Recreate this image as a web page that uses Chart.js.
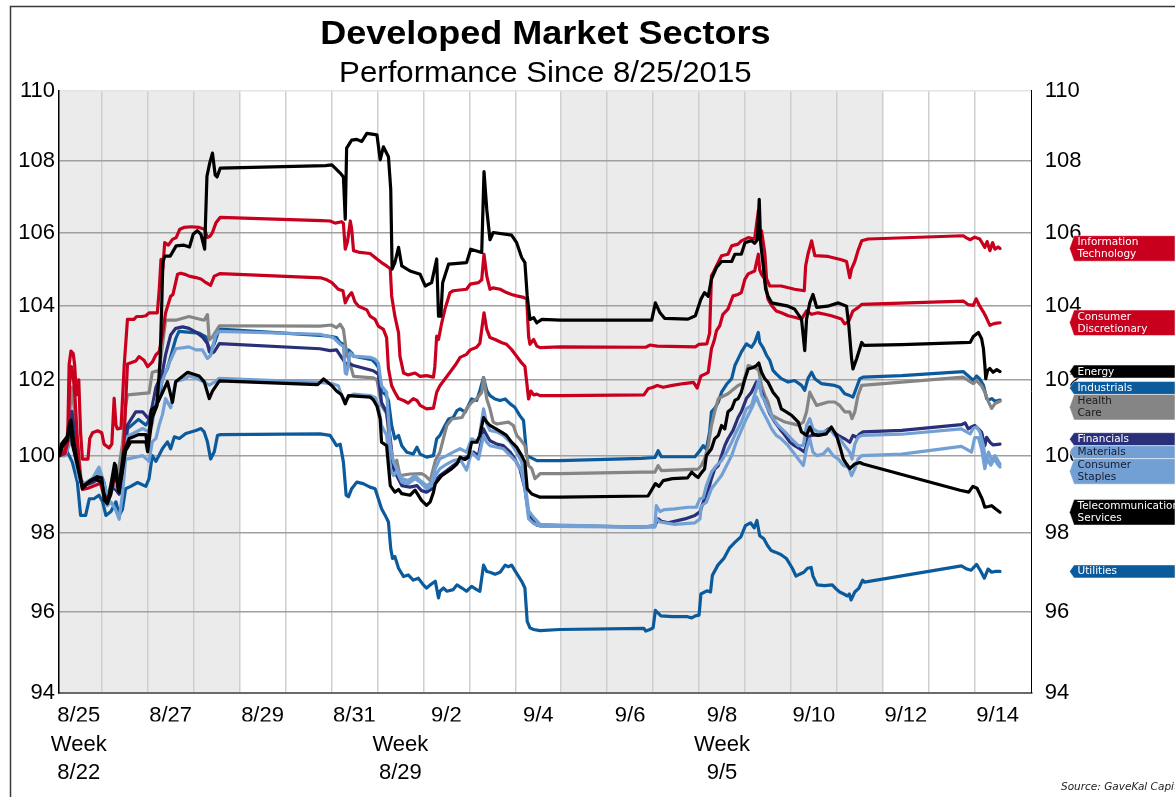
<!DOCTYPE html>
<html>
<head>
<meta charset="utf-8">
<title>Developed Market Sectors</title>
<script src="https://cdn.jsdelivr.net/npm/chart.js@4.4.1/dist/chart.umd.min.js"></script>
<style>
  html, body { margin: 0; padding: 0; background: #fff; }
  #wrap { width: 1175px; height: 797px; position: relative; }
</style>
</head>
<body>
<div id="wrap"><canvas id="sectorChart" width="1175" height="797"></canvas></div>
<script>
// x = days since 8/25/2015 00:00, y = index level (8/25/2015 = 100)
const itPts = [[0.08,100],[0.2,100.1],[0.26,100.5],[0.29,102.4],[0.33,102.77],[0.38,102.7],[0.41,102.4],[0.45,101.6],[0.5,102.0],[0.54,100.6],[0.58,99.91],[0.7,99.91],[0.74,100.45],[0.8,100.6],[0.91,100.65],[1.0,100.6],[1.05,100.3],[1.16,100.2],[1.22,100.3],[1.27,101.51],[1.31,100.8],[1.34,100.7],[1.42,100.72],[1.49,102.4],[1.56,103.62],[1.7,103.62],[1.76,103.7],[1.88,103.7],[1.96,103.72],[2.03,103.8],[2.21,103.8],[2.25,104.4],[2.29,105.26],[2.33,105.0],[2.37,105.72],[2.45,105.65],[2.54,105.81],[2.62,105.86],[2.7,106.09],[2.79,106.14],[2.95,106.16],[3.12,106.14],[3.24,106.09],[3.3,105.86],[3.36,105.9],[3.41,106.0],[3.49,106.28],[3.58,106.42],[5.78,106.33],[5.97,106.32],[6.08,106.26],[6.22,106.3],[6.26,106.25],[6.3,105.54],[6.35,105.75],[6.41,106.32],[6.44,106.1],[6.48,105.5],[6.62,105.45],[6.84,105.42],[6.99,105.27],[7.09,105.17],[7.2,105.08],[7.28,105.0],[7.31,104.26],[7.38,103.71],[7.46,103.26],[7.49,102.63],[7.57,102.18],[7.67,102.13],[7.82,102.18],[7.93,102.09],[8.07,102.11],[8.22,102.07],[8.25,102.35],[8.29,103.17],[8.33,103.08],[8.4,103.53],[8.47,103.9],[8.58,104.35],[8.65,104.4],[8.94,104.44],[9.02,104.58],[9.2,104.62],[9.27,104.7],[9.32,105.4],[9.38,104.8],[9.45,104.44],[9.52,104.48],[9.67,104.44],[9.81,104.35],[9.92,104.3],[10.03,104.26],[10.18,104.22],[10.25,104.17],[10.29,103.17],[10.32,102.95],[10.4,103.08],[10.47,102.9],[10.54,102.86],[10.97,102.88],[12.84,102.87],[12.93,102.93],[13.09,102.9],[13.92,102.88],[14.0,102.95],[14.17,102.96],[14.23,103.25],[14.27,104.81],[14.31,104.9],[14.38,105.08],[14.49,105.36],[14.63,105.4],[14.71,105.63],[14.85,105.68],[14.92,105.77],[15.07,105.86],[15.21,105.82],[15.29,106.6],[15.32,105.86],[15.36,106.05],[15.43,105.45],[15.47,104.72],[15.54,104.53],[15.79,104.53],[16.08,104.44],[16.29,104.4],[16.32,105.08],[16.37,105.4],[16.45,105.77],[16.52,105.36],[16.81,105.34],[17.1,105.25],[17.21,105.2],[17.28,104.76],[17.32,105.0],[17.39,105.2],[17.46,105.5],[17.54,105.77],[17.68,105.82],[19.75,105.91],[19.82,105.85],[19.9,105.8],[20.0,105.87],[20.11,105.82],[20.22,105.59],[20.27,105.75],[20.33,105.5],[20.39,105.72],[20.44,105.54],[20.51,105.6],[20.55,105.56]];

const discPts = [[0.08,100],[0.2,100.05],[0.27,100.4],[0.3,101.9],[0.34,102.35],[0.38,102.1],[0.42,101.5],[0.47,100.4],[0.53,99.5],[0.58,99.12],[0.7,99.15],[0.85,99.22],[0.97,99.28],[1.04,99.0],[1.12,98.88],[1.22,99.1],[1.29,99.5],[1.37,99.15],[1.45,99.6],[1.5,100.8],[1.56,102.42],[1.74,102.5],[1.81,102.62],[1.92,102.52],[2.0,102.35],[2.1,102.47],[2.18,102.67],[2.25,102.75],[2.32,103.2],[2.39,103.8],[2.5,104.25],[2.55,104.3],[2.65,104.85],[2.72,104.88],[2.83,104.84],[2.9,104.8],[3.05,104.76],[3.16,104.72],[3.27,104.62],[3.37,104.55],[3.45,104.8],[3.58,104.87],[5.78,104.75],[5.9,104.7],[6.01,104.62],[6.15,104.44],[6.25,104.4],[6.3,104.07],[6.37,104.25],[6.44,104.35],[6.51,104.1],[6.59,103.98],[6.77,103.88],[6.84,103.71],[6.95,103.62],[7.02,103.44],[7.13,103.35],[7.2,103.13],[7.24,102.3],[7.31,101.84],[7.38,101.67],[7.46,101.5],[7.57,101.45],[7.67,101.38],[7.78,101.5],[7.86,101.45],[7.93,101.32],[8.07,101.23],[8.22,101.25],[8.29,101.67],[8.36,101.84],[8.47,102.02],[8.58,102.2],[8.7,102.4],[8.8,102.6],[8.94,102.68],[9.02,102.8],[9.16,102.87],[9.23,102.98],[9.32,103.8],[9.38,103.35],[9.45,103.13],[9.56,103.08],[9.71,102.99],[9.81,102.95],[9.92,102.81],[10.03,102.63],[10.14,102.45],[10.21,102.36],[10.25,101.93],[10.29,101.49],[10.34,101.7],[10.4,101.6],[10.47,101.62],[10.54,101.58],[10.97,101.58],[12.8,101.6],[12.89,101.76],[13.0,101.8],[13.09,101.85],[13.22,101.8],[13.42,101.85],[13.67,101.9],[13.88,101.93],[13.96,101.78],[14.04,102.1],[14.13,102.15],[14.2,102.2],[14.27,102.83],[14.33,103.05],[14.38,103.32],[14.45,103.45],[14.52,103.76],[14.63,103.9],[14.74,104.26],[14.85,104.3],[14.92,104.35],[15.0,104.72],[15.07,104.86],[15.21,104.94],[15.29,105.4],[15.32,104.97],[15.36,104.85],[15.43,104.72],[15.5,104.17],[15.58,104.0],[15.68,103.85],[15.79,103.8],[15.94,103.72],[16.08,103.68],[16.23,103.63],[16.34,103.85],[16.45,103.76],[16.59,103.8],[16.74,103.76],[16.88,103.72],[17.1,103.63],[17.17,103.5],[17.25,103.55],[17.35,103.85],[17.46,103.94],[17.54,104.03],[19.75,104.12],[19.86,104.02],[19.97,104.0],[20.03,104.18],[20.11,103.98],[20.19,103.82],[20.26,103.65],[20.33,103.46],[20.4,103.5],[20.48,103.52],[20.55,103.53]];

const energyPts = [[0.08,100],[0.15,100.25],[0.25,100.4],[0.33,100.93],[0.4,100.3],[0.5,99.6],[0.58,99.14],[0.75,99.35],[0.9,99.45],[1.0,99.42],[1.05,98.85],[1.12,98.75],[1.2,99.0],[1.3,99.75],[1.38,99.05],[1.45,99.6],[1.52,100.13],[1.63,100.36],[1.96,100.36],[2.0,100.1],[2.1,101.0],[2.2,101.3],[2.27,102.5],[2.31,104.2],[2.33,105.17],[2.37,105.35],[2.49,105.35],[2.62,105.63],[2.79,105.65],[2.91,105.6],[2.99,105.95],[3.08,106.05],[3.16,105.95],[3.24,105.54],[3.29,107.57],[3.35,107.94],[3.41,108.22],[3.47,107.6],[3.51,107.55],[3.58,107.8],[5.87,107.87],[6.01,107.89],[6.19,107.66],[6.26,107.55],[6.3,106.37],[6.33,108.36],[6.44,108.59],[6.55,108.61],[6.66,108.55],[6.77,108.78],[6.99,108.74],[7.06,108.03],[7.13,108.4],[7.24,108.12],[7.29,107.2],[7.32,104.99],[7.38,105.17],[7.46,105.59],[7.53,105.08],[7.71,104.94],[7.93,104.85],[8.04,104.53],[8.18,104.62],[8.29,105.27],[8.33,103.71],[8.38,103.71],[8.42,104.62],[8.55,105.13],[8.94,105.17],[9.03,105.54],[9.27,105.45],[9.32,107.7],[9.38,106.64],[9.45,105.8],[9.52,106.0],[9.92,105.93],[10.03,105.72],[10.14,105.31],[10.21,105.17],[10.26,104.26],[10.32,103.62],[10.4,103.67],[10.47,103.53],[10.58,103.62],[10.98,103.6],[12.97,103.6],[13.05,104.07],[13.15,103.8],[13.25,103.65],[13.76,103.63],[13.92,103.72],[14.04,104.17],[14.12,104.35],[14.2,104.25],[14.27,104.72],[14.38,105.04],[14.49,105.2],[14.71,105.2],[14.78,105.4],[14.92,105.4],[15.0,105.72],[15.14,105.77],[15.21,105.7],[15.27,105.8],[15.31,106.92],[15.34,105.72],[15.39,105.17],[15.45,104.44],[15.5,104.26],[15.58,104.07],[15.94,103.98],[16.08,103.9],[16.23,103.63],[16.3,102.78],[16.34,103.63],[16.41,104.07],[16.48,104.3],[16.56,103.95],[16.8,103.98],[17.03,104.07],[17.21,103.98],[17.26,103.45],[17.32,102.56],[17.35,102.29],[17.43,102.56],[17.54,103.0],[17.59,102.92],[18.41,102.94],[19.9,103.0],[19.97,103.16],[20.08,103.27],[20.15,103.1],[20.19,102.83],[20.22,102.39],[20.24,102.03],[20.28,102.25],[20.33,102.3],[20.4,102.2],[20.48,102.27],[20.55,102.22]];

const industrialsPts = [[0.08,100],[0.2,100.05],[0.3,100.5],[0.35,100.8],[0.42,100.2],[0.5,99.5],[0.6,99.25],[0.8,99.4],[0.95,99.6],[1.05,99.3],[1.12,98.9],[1.25,99.2],[1.38,99.0],[1.45,99.6],[1.56,100.7],[1.8,100.95],[1.96,100.8],[2.1,101.05],[2.25,101.5],[2.32,102.04],[2.43,102.3],[2.61,103.1],[2.68,103.3],[3.12,103.25],[3.27,103.15],[3.34,102.75],[3.45,102.97],[3.56,103.36],[5.75,103.19],[6.0,103.16],[6.11,103.13],[6.19,102.99],[6.26,102.95],[6.3,102.63],[6.37,102.8],[6.44,102.72],[6.48,102.63],[6.88,102.54],[6.95,102.45],[7.02,102.33],[7.09,101.67],[7.17,101.62],[7.24,101.45],[7.31,100.79],[7.38,100.44],[7.46,100.53],[7.53,100.26],[7.64,100.09],[7.78,100.04],[7.86,100.22],[7.93,100.04],[8.07,99.96],[8.22,100.0],[8.29,100.44],[8.36,100.53],[8.47,100.79],[8.55,100.96],[8.65,101.0],[8.73,101.18],[8.8,101.23],[8.91,101.14],[8.98,101.32],[9.05,101.49],[9.16,101.45],[9.23,101.71],[9.31,102.06],[9.38,101.71],[9.45,101.58],[9.56,101.49],[9.67,101.45],[9.78,101.49],[9.89,101.36],[9.99,101.27],[10.1,101.05],[10.18,100.92],[10.25,100.0],[10.32,99.96],[10.47,99.87],[10.97,99.87],[12.75,99.93],[13.04,99.95],[13.11,100.13],[13.18,99.97],[13.91,99.97],[14.02,100.13],[14.09,100.26],[14.16,100.17],[14.23,100.62],[14.27,101.15],[14.34,101.24],[14.42,101.41],[14.49,101.67],[14.6,101.88],[14.71,102.03],[14.78,102.38],[14.85,102.56],[14.92,102.74],[15.03,102.96],[15.14,102.87],[15.21,103.0],[15.29,103.27],[15.32,103.0],[15.39,102.87],[15.47,102.65],[15.54,102.52],[15.61,102.25],[15.68,102.16],[15.79,102.03],[15.94,101.94],[16.08,101.98],[16.23,101.85],[16.3,101.72],[16.37,102.03],[16.45,102.2],[16.52,102.03],[16.66,101.9],[16.95,101.85],[17.06,101.8],[17.17,101.63],[17.28,101.58],[17.35,101.54],[17.43,101.8],[17.5,102.03],[17.57,102.07],[18.41,102.11],[19.75,102.22],[19.86,102.1],[19.97,101.98],[20.04,102.1],[20.11,102.02],[20.19,101.85],[20.26,101.5],[20.3,101.46],[20.37,101.5],[20.44,101.43],[20.55,101.46]];

const healthPts = [[0.08,100],[0.2,100.1],[0.3,101.0],[0.34,101.8],[0.38,101.5],[0.45,100.6],[0.55,99.4],[0.6,99.2],[0.8,99.35],[0.95,99.45],[1.05,99.2],[1.12,98.95],[1.25,99.4],[1.35,99.5],[1.45,100.3],[1.52,101.3],[1.56,101.6],[2.03,101.65],[2.1,102.2],[2.25,102.25],[2.32,102.9],[2.39,103.6],[2.61,103.6],[2.9,103.7],[3.16,103.62],[3.23,103.6],[3.3,103.75],[3.34,103.07],[3.41,103.15],[3.56,103.45],[5.75,103.44],[6.0,103.47],[6.11,103.4],[6.19,103.49],[6.26,103.35],[6.33,102.72],[6.44,102.27],[6.48,102.09],[6.91,102.05],[6.99,102.0],[7.09,101.32],[7.2,101.1],[7.28,100.18],[7.35,99.74],[7.42,99.88],[7.49,99.48],[7.71,99.52],[7.96,99.53],[8.04,99.48],[8.15,99.35],[8.26,99.87],[8.36,100.09],[8.51,100.79],[8.62,100.96],[8.84,101.0],[8.94,101.23],[9.05,101.4],[9.16,101.5],[9.27,101.66],[9.31,102.06],[9.38,101.49],[9.45,101.23],[9.52,100.88],[9.6,100.83],[9.85,100.88],[9.96,100.79],[10.03,100.53],[10.1,100.44],[10.21,100.26],[10.29,99.74],[10.36,99.66],[10.43,99.4],[10.5,99.48],[10.54,99.53],[10.97,99.53],[12.75,99.57],[13.04,99.57],[13.11,99.74],[13.18,99.61],[13.98,99.65],[14.05,99.74],[14.12,99.91],[14.2,100.26],[14.27,100.79],[14.34,101.15],[14.42,101.5],[14.63,101.63],[14.85,101.85],[14.96,101.9],[15.07,102.38],[15.25,102.3],[15.3,102.25],[15.36,101.85],[15.43,101.59],[15.5,101.41],[15.58,101.06],[15.72,100.97],[15.87,100.88],[16.16,100.8],[16.27,100.88],[16.34,101.15],[16.41,101.67],[16.48,101.5],[16.56,101.32],[16.81,101.41],[16.95,101.41],[17.06,101.32],[17.17,101.15],[17.28,101.15],[17.33,100.97],[17.39,101.15],[17.46,101.59],[17.54,101.85],[18.41,101.94],[19.75,102.07],[19.86,101.98],[19.97,101.9],[20.04,101.98],[20.15,101.84],[20.22,101.67],[20.3,101.41],[20.37,101.24],[20.44,101.37],[20.55,101.43]];

const financialsPts = [[0.08,100],[0.2,100.05],[0.3,100.6],[0.35,101.16],[0.4,100.7],[0.48,99.7],[0.58,99.2],[0.8,99.3],[0.95,99.4],[1.05,99.1],[1.12,98.85],[1.25,99.2],[1.38,99.0],[1.45,99.5],[1.56,100.8],[1.74,101.15],[1.89,101.15],[2.03,100.95],[2.1,101.3],[2.18,101.8],[2.32,102.2],[2.39,102.67],[2.5,103.2],[2.61,103.38],[2.76,103.42],[2.9,103.38],[3.05,103.28],[3.19,103.15],[3.3,102.97],[3.37,102.7],[3.45,102.75],[3.56,102.97],[5.75,102.83],[5.97,102.78],[6.11,102.8],[6.19,102.65],[6.3,102.45],[6.33,102.36],[6.37,102.45],[6.48,102.38],[6.91,102.24],[7.02,102.15],[7.09,101.4],[7.2,101.14],[7.28,100.44],[7.35,99.66],[7.42,99.48],[7.53,99.22],[7.71,99.18],[7.86,99.22],[7.96,99.09],[8.07,99.05],[8.18,99.13],[8.26,99.35],[8.36,99.48],[8.51,99.61],[8.65,99.74],[8.8,99.87],[8.94,99.96],[9.09,100.09],[9.2,100.0],[9.31,100.7],[9.38,100.53],[9.45,100.39],[9.6,100.3],[9.74,100.26],[9.89,100.09],[9.99,99.92],[10.1,99.66],[10.21,99.14],[10.29,98.49],[10.36,98.36],[10.47,98.2],[10.97,98.19],[12.75,98.15],[13.04,98.18],[13.11,98.36],[13.18,98.3],[13.33,98.26],[13.69,98.36],[13.91,98.45],[14.02,98.54],[14.09,98.79],[14.2,99.09],[14.27,99.4],[14.34,99.65],[14.42,99.74],[14.49,100.0],[14.56,100.26],[14.63,100.44],[14.74,100.66],[14.85,101.0],[14.92,101.15],[15.03,101.5],[15.14,101.67],[15.25,101.94],[15.32,101.8],[15.39,101.58],[15.47,101.32],[15.54,101.1],[15.65,100.88],[15.76,100.7],[15.87,100.53],[15.98,100.35],[16.08,100.26],[16.19,100.18],[16.3,100.09],[16.37,100.48],[16.45,100.53],[16.66,100.55],[16.81,100.7],[16.92,100.62],[17.03,100.53],[17.17,100.44],[17.28,100.35],[17.35,100.53],[17.43,100.48],[17.5,100.57],[17.57,100.62],[18.41,100.66],[19.71,100.81],[19.79,100.86],[19.86,100.7],[19.93,100.75],[20.0,100.79],[20.08,100.7],[20.15,100.61],[20.22,100.26],[20.26,100.48],[20.33,100.35],[20.4,100.28],[20.55,100.3]];

const materialsPts = [[0.08,100],[0.2,100.0],[0.3,100.4],[0.35,100.7],[0.42,100.1],[0.5,99.5],[0.6,99.25],[0.8,99.4],[0.94,99.7],[1.02,99.4],[1.12,98.95],[1.25,99.25],[1.38,99.1],[1.45,99.8],[1.56,100.5],[1.89,100.71],[2.03,100.62],[2.1,100.85],[2.18,101.42],[2.3,101.9],[2.45,102.4],[2.61,102.83],[2.9,102.88],[3.05,102.8],[3.19,102.8],[3.3,102.57],[3.37,102.65],[3.48,103.2],[3.56,103.3],[5.75,103.22],[6.04,103.13],[6.19,102.95],[6.26,102.9],[6.3,102.18],[6.33,102.15],[6.41,102.72],[6.48,102.63],[6.84,102.6],[6.95,102.55],[7.02,102.45],[7.09,101.84],[7.2,101.67],[7.28,100.26],[7.35,99.83],[7.42,99.66],[7.53,99.4],[7.67,99.35],[7.82,99.48],[7.93,99.35],[8.07,99.22],[8.18,99.3],[8.26,99.66],[8.36,99.92],[8.51,100.0],[8.65,100.09],[8.8,100.18],[8.94,100.09],[9.05,100.44],[9.2,100.35],[9.31,101.23],[9.38,100.83],[9.45,100.66],[9.6,100.62],[9.74,100.53],[9.89,100.35],[10.03,100.09],[10.14,99.83],[10.21,99.3],[10.29,98.57],[10.4,98.4],[10.54,98.22],[10.97,98.2],[12.75,98.15],[13.04,98.18],[13.07,98.7],[13.15,98.55],[13.25,98.6],[13.47,98.62],[13.76,98.66],[13.94,98.66],[14.02,98.88],[14.09,98.9],[14.16,99.22],[14.27,99.57],[14.38,99.74],[14.49,99.87],[14.6,100.09],[14.71,100.35],[14.81,100.62],[14.92,100.88],[15.03,101.23],[15.14,101.32],[15.25,101.76],[15.3,102.0],[15.36,101.59],[15.43,101.45],[15.5,101.23],[15.61,100.97],[15.72,100.79],[15.87,100.62],[16.01,100.44],[16.16,100.26],[16.27,100.26],[16.34,100.79],[16.41,100.97],[16.48,100.7],[16.59,100.62],[16.74,100.62],[16.85,100.7],[16.95,100.53],[17.06,100.44],[17.17,100.26],[17.28,100.09],[17.33,99.91],[17.39,100.3],[17.46,100.48],[17.54,100.53],[18.41,100.56],[19.71,100.7],[19.82,100.62],[19.9,100.57],[19.97,100.72],[20.04,100.75],[20.11,100.62],[20.19,100.26],[20.24,99.83],[20.3,100.09],[20.37,99.87],[20.44,100.0],[20.55,99.78]];

const staplesPts = [[0.08,100],[0.2,100.0],[0.3,100.3],[0.35,100.6],[0.42,100.0],[0.5,99.4],[0.6,99.2],[0.8,99.4],[0.94,99.55],[1.02,99.2],[1.12,98.7],[1.2,98.8],[1.3,98.6],[1.38,98.35],[1.45,99.0],[1.52,99.9],[1.89,100.0],[2.03,99.85],[2.1,100.36],[2.18,100.45],[2.25,100.8],[2.32,101.07],[2.39,101.5],[2.5,101.26],[2.61,101.96],[2.76,102.0],[2.9,102.1],[3.05,102.05],[3.19,101.96],[3.34,101.86],[3.48,101.96],[3.56,102.04],[5.75,101.93],[6.0,101.9],[6.15,101.84],[6.22,101.58],[6.3,101.45],[6.41,101.58],[6.48,101.62],[6.84,101.58],[6.95,101.53],[7.02,101.32],[7.09,100.79],[7.2,100.53],[7.28,99.65],[7.35,99.48],[7.42,99.6],[7.53,99.31],[7.67,99.27],[7.82,99.4],[7.93,99.31],[8.07,99.14],[8.18,99.22],[8.26,99.48],[8.36,99.66],[8.51,99.78],[8.65,99.87],[8.8,99.91],[8.94,99.62],[9.05,100.09],[9.2,99.91],[9.31,100.53],[9.38,100.35],[9.45,100.26],[9.6,100.22],[9.74,100.18],[9.89,100.0],[10.03,99.83],[10.14,99.57],[10.21,99.14],[10.29,98.36],[10.4,98.24],[10.54,98.17],[10.97,98.17],[12.75,98.15],[13.04,98.15],[13.07,98.36],[13.15,98.28],[13.47,98.22],[13.91,98.26],[14.02,98.36],[14.05,98.7],[14.16,98.79],[14.27,99.14],[14.38,99.31],[14.49,99.48],[14.6,99.74],[14.71,100.0],[14.81,100.35],[14.92,100.66],[15.03,100.97],[15.14,101.23],[15.25,101.54],[15.32,101.32],[15.39,101.15],[15.47,100.97],[15.58,100.7],[15.68,100.53],[15.79,100.44],[15.94,100.26],[16.05,100.09],[16.16,99.91],[16.27,99.74],[16.34,100.18],[16.41,100.44],[16.48,100.09],[16.56,100.0],[16.7,100.04],[16.81,100.18],[16.92,100.0],[17.03,99.91],[17.14,99.74],[17.25,99.7],[17.32,99.48],[17.39,99.66],[17.46,99.91],[17.54,100.0],[18.41,100.04],[19.71,100.24],[19.82,100.17],[19.93,100.09],[20.0,100.47],[20.08,100.47],[20.15,100.17],[20.22,99.66],[20.27,99.92],[20.35,99.75],[20.42,99.92],[20.49,99.79],[20.55,99.7]];

const telecomPts = [[0.08,100],[0.12,100.3],[0.25,100.5],[0.31,100.9],[0.36,100.3],[0.48,99.7],[0.58,99.2],[0.7,99.3],[0.85,99.4],[1.0,99.3],[1.08,98.85],[1.15,98.9],[1.28,99.8],[1.36,99.1],[1.48,100.1],[1.6,100.45],[1.8,100.55],[1.96,100.55],[2.0,100.2],[2.08,101.2],[2.18,101.3],[2.3,101.6],[2.43,101.95],[2.54,101.4],[2.61,101.95],[2.87,102.2],[3.12,102.1],[3.23,101.95],[3.34,101.5],[3.41,101.7],[3.56,101.97],[5.7,101.87],[5.83,102.02],[6.01,101.84],[6.11,101.7],[6.22,101.6],[6.3,101.36],[6.37,101.58],[6.84,101.54],[6.91,101.47],[6.99,101.3],[7.06,100.96],[7.09,100.35],[7.2,100.26],[7.28,99.22],[7.38,99.05],[7.46,99.12],[7.53,99.01],[7.71,98.97],[7.82,99.1],[7.96,98.84],[8.07,98.71],[8.15,98.8],[8.22,99.05],[8.26,99.27],[8.4,99.48],[8.62,99.66],[8.73,99.78],[8.8,99.96],[8.91,99.9],[8.98,99.96],[9.05,100.35],[9.16,100.35],[9.23,100.53],[9.31,101.0],[9.38,100.88],[9.45,100.79],[9.71,100.61],[9.81,100.53],[9.92,100.35],[10.03,100.22],[10.14,100.0],[10.21,99.83],[10.26,99.14],[10.36,99.0],[10.54,98.92],[10.97,98.92],[12.89,98.95],[13.05,99.27],[13.13,99.2],[13.22,99.35],[13.42,99.4],[13.75,99.42],[13.84,99.57],[13.92,99.48],[13.98,99.43],[14.05,99.55],[14.12,99.65],[14.16,100.0],[14.27,100.18],[14.34,100.44],[14.42,100.53],[14.49,100.79],[14.56,100.7],[14.63,101.15],[14.71,101.23],[14.78,101.45],[14.85,101.5],[14.92,101.67],[15.0,102.03],[15.07,102.29],[15.18,102.33],[15.25,102.38],[15.3,102.45],[15.36,102.2],[15.43,102.03],[15.5,101.94],[15.61,101.67],[15.72,101.5],[15.79,101.23],[15.9,101.15],[16.01,101.06],[16.16,100.88],[16.23,100.62],[16.34,100.53],[16.41,100.75],[16.48,100.57],[16.59,100.53],[16.77,100.57],[16.88,100.75],[16.99,100.53],[17.06,100.26],[17.14,99.91],[17.21,99.78],[17.28,99.66],[17.39,99.78],[17.5,99.82],[17.57,99.78],[19.68,99.1],[19.87,99.05],[19.96,99.2],[20.05,99.15],[20.16,98.88],[20.22,98.66],[20.3,98.68],[20.37,98.7],[20.45,98.62],[20.55,98.53]];

const utilitiesPts = [[0.08,100],[0.22,100.17],[0.36,99.83],[0.47,99.31],[0.54,98.45],[0.65,98.45],[0.73,98.88],[0.83,98.88],[0.94,98.97],[1.02,98.8],[1.09,98.45],[1.2,98.55],[1.31,98.8],[1.38,98.45],[1.45,98.6],[1.52,99.14],[1.63,99.2],[1.78,99.3],[1.96,99.2],[2.03,99.4],[2.1,100.0],[2.18,99.85],[2.32,100.18],[2.43,100.36],[2.5,100.18],[2.58,100.49],[2.69,100.45],[2.83,100.58],[2.94,100.62],[3.05,100.66],[3.16,100.71],[3.23,100.62],[3.3,100.36],[3.37,99.91],[3.45,100.1],[3.52,100.53],[3.59,100.55],[5.75,100.57],[5.97,100.53],[6.04,100.4],[6.11,100.26],[6.19,100.3],[6.26,99.83],[6.32,98.97],[6.37,98.93],[6.44,99.14],[6.55,99.31],[6.69,99.27],[6.84,99.18],[6.95,99.14],[7.02,98.88],[7.09,98.62],[7.17,98.45],[7.24,98.28],[7.29,97.6],[7.33,97.35],[7.38,97.4],[7.46,97.1],[7.57,96.89],[7.67,96.93],[7.78,96.8],[7.89,96.85],[8.0,96.68],[8.07,96.6],[8.15,96.68],[8.26,96.77],[8.33,96.35],[8.36,96.52],[8.44,96.6],[8.51,96.52],[8.65,96.56],[8.73,96.68],[8.84,96.6],[8.94,96.52],[9.05,96.64],[9.16,96.56],[9.23,96.52],[9.31,97.18],[9.38,97.02],[9.45,97.0],[9.56,96.95],[9.67,97.0],[9.78,97.18],[9.85,97.14],[9.92,97.18],[10.03,96.97],[10.14,96.77],[10.21,96.6],[10.26,95.76],[10.32,95.6],[10.4,95.56],[10.54,95.53],[10.97,95.56],[12.8,95.59],[12.84,95.52],[12.93,95.56],[13.0,95.6],[13.05,96.04],[13.17,95.9],[13.42,95.88],[13.75,95.88],[13.84,95.85],[13.92,95.9],[14.0,95.92],[14.04,96.45],[14.17,96.53],[14.25,96.5],[14.29,96.92],[14.41,97.18],[14.54,97.35],[14.66,97.61],[14.79,97.77],[14.91,97.9],[15.01,98.19],[15.12,98.26],[15.2,98.13],[15.26,98.32],[15.32,97.93],[15.41,97.85],[15.49,97.68],[15.57,97.55],[15.66,97.51],[15.78,97.45],[15.9,97.35],[16.03,97.1],[16.11,96.9],[16.19,96.95],[16.28,97.0],[16.36,97.1],[16.44,97.12],[16.48,96.9],[16.57,96.68],[16.73,96.66],[16.9,96.68],[16.98,96.58],[17.06,96.5],[17.15,96.45],[17.23,96.4],[17.27,96.45],[17.31,96.3],[17.39,96.5],[17.48,96.6],[17.56,96.8],[17.6,96.75],[19.71,97.16],[19.83,97.08],[19.92,97.05],[20.04,97.2],[20.12,97.05],[20.21,96.85],[20.29,97.08],[20.37,97.0],[20.45,97.02],[20.55,97.02]];

// axis ticks
const yTicks = [94, 96, 98, 100, 102, 104, 106, 108, 110];
const gridDays = [1, 2, 3, 4, 5, 6, 7, 8, 9, 10, 11, 12, 13, 14, 15, 16, 17, 18, 19, 20];
const dateTickDays = [0.5, 2.5, 4.5, 6.5, 8.5, 10.5, 12.5, 14.5, 16.5, 18.5, 20.5];
const dateLabels = ['8/25', '8/27', '8/29', '8/31', '9/2', '9/4', '9/6', '9/8', '9/10', '9/12', '9/14'];
const weekTickDays = [0.5, 7.5, 14.5];
const weekLabels = [['Week', '8/22'], ['Week', '8/29'], ['Week', '9/5']];
const shadedWeeks = [[0, 4], [11, 18]];
const X_MIN = 0.07, X_MAX = 21.24;

const RED = '#c8001e', BLACK = '#000000', BLUE = '#0b5a9c', GRAY = '#858585', NAVY = '#2a2f7a', LIGHT = '#72a0d4';

// order: lower = drawn on top
const sectors = [
    { name: ['Information', 'Technology'], pts: itPts, color: RED, text: '#fff', order: 2 },
    { name: ['Consumer', 'Discretionary'], pts: discPts, color: RED, text: '#fff', order: 3 },
    { name: ['Energy'], pts: energyPts, color: BLACK, text: '#fff', order: 0 },
    { name: ['Industrials'], pts: industrialsPts, color: BLUE, text: '#fff', order: 8 },
    { name: ['Health', 'Care'], pts: healthPts, color: GRAY, text: '#1a1a1a', order: 7 },
    { name: ['Financials'], pts: financialsPts, color: NAVY, text: '#fff', order: 6 },
    { name: ['Materials'], pts: materialsPts, color: LIGHT, text: '#1a1a2a', order: 5 },
    { name: ['Consumer', 'Staples'], pts: staplesPts, color: LIGHT, text: '#1a1a2a', order: 4 },
    { name: ['Telecommunications', 'Services'], pts: telecomPts, color: BLACK, text: '#fff', order: 1 },
    { name: ['Utilities'], pts: utilitiesPts, color: BLUE, text: '#fff', order: 9 }
];

Chart.defaults.font.family = '"Liberation Sans", Arial, sans-serif';
Chart.defaults.color = '#000';

// grey weekly bands + outer frame
const backdropPlugin = {
    id: 'backdrop',
    beforeDraw(chart) {
        const { ctx, chartArea } = chart;
        const xs = chart.scales.x;
        ctx.save();
        ctx.fillStyle = '#fff';
        ctx.fillRect(0, 0, chart.width, chart.height);
        ctx.fillStyle = '#ebebeb';
        shadedWeeks.forEach(([a, b]) => {
            const x1 = Math.max(xs.getPixelForValue(a), chartArea.left);
            const x2 = Math.min(xs.getPixelForValue(b), chartArea.right);
            ctx.fillRect(x1, chartArea.top, x2 - x1, chartArea.bottom - chartArea.top);
        });
        ctx.strokeStyle = '#3a3a3a';
        ctx.lineWidth = 1.5;
        ctx.beginPath();
        ctx.moveTo(10.5, chart.height + 5);
        ctx.lineTo(10.5, 6.5);
        ctx.lineTo(chart.width + 5, 6.5);
        ctx.stroke();
        ctx.restore();
    }
};

// title, subtitle, source note
const textPlugin = {
    id: 'texts',
    afterDraw(chart) {
        const { ctx, chartArea } = chart;
        const cx = (chartArea.left + chartArea.right) / 2;
        ctx.save();
        ctx.fillStyle = '#000';
        ctx.textAlign = 'center';
        ctx.textBaseline = 'alphabetic';
        ctx.translate(cx, 0);
        ctx.scale(1.075, 1);
        ctx.font = 'bold 33.5px "Liberation Sans", Arial, sans-serif';
        ctx.fillText('Developed Market Sectors', 0, 43.5);
        ctx.font = '29px "Liberation Sans", Arial, sans-serif';
        ctx.fillText('Performance Since 8/25/2015', 0, 81.5);
        ctx.restore();

        ctx.save();
        ctx.fillStyle = '#222';
        ctx.font = 'italic 10.5px "DejaVu Sans", sans-serif';
        ctx.textAlign = 'left';
        ctx.textBaseline = 'middle';
        ctx.fillText('Source: GaveKal Capital', 1061, 787);
        ctx.restore();
    }
};

// arrow-shaped name tags at the right, stacked where they collide
const tagPlugin = {
    id: 'tags',
    afterDraw(chart) {
        const { ctx } = chart;
        const ys = chart.scales.y;
        const tipX = 1069.5, lineH = 12;
        const items = sectors.map(s => {
            const last = s.pts[s.pts.length - 1][1];
            return { s, y: ys.getPixelForValue(last), h: s.name.length === 2 ? 25.5 : 13 };
        }).sort((a, b) => a.y - b.y);

        let groups = items.map(it => ({ items: [it], center: it.y, h: it.h }));
        let merged = true;
        while (merged) {
            merged = false;
            for (let i = 0; i < groups.length - 1; i++) {
                const a = groups[i], b = groups[i + 1];
                if (a.center + a.h / 2 > b.center - b.h / 2) {
                    const all = a.items.concat(b.items);
                    const c = all.reduce((sum, it) => sum + it.y, 0) / all.length;
                    groups.splice(i, 2, { items: all, center: c, h: a.h + b.h });
                    merged = true;
                    break;
                }
            }
        }

        ctx.save();
        groups.forEach(g => {
            let top = g.center - g.h / 2;
            g.items.forEach(it => {
                const h = it.h;
                ctx.beginPath();
                ctx.moveTo(tipX, top + h / 2);
                ctx.lineTo(tipX + 4.5, top);
                ctx.lineTo(chart.width, top);
                ctx.lineTo(chart.width, top + h);
                ctx.lineTo(tipX + 4.5, top + h);
                ctx.closePath();
                ctx.fillStyle = it.s.color;
                ctx.fill();
                ctx.strokeStyle = 'rgba(255,255,255,0.6)';
                ctx.lineWidth = 0.8;
                ctx.stroke();
                ctx.fillStyle = it.s.text;
                ctx.font = '10.5px "DejaVu Sans", sans-serif';
                ctx.textAlign = 'left';
                ctx.textBaseline = 'middle';
                it.s.name.forEach((line, k) => {
                    ctx.fillText(line, tipX + 8, top + 6.8 + k * lineH);
                });
                top += h;
            });
        });
        ctx.restore();
    }
};

const setTicks = (values) => (scale) => { scale.ticks = values.map(v => ({ value: v })); };

const ctx = document.getElementById('sectorChart').getContext('2d');
window.sectorChart = new Chart(ctx, {
    type: 'line',
    data: {
        datasets: sectors.map(s => ({
            label: s.name.join(' '),
            data: s.pts.map(([x, y]) => ({ x, y })),
            borderColor: s.color,
            backgroundColor: s.color,
            borderWidth: 3.2,
            pointRadius: 0,
            tension: 0,
            borderJoinStyle: 'round',
            borderCapStyle: 'round',
            fill: false,
            order: s.order,
            xAxisID: 'x',
            yAxisID: 'y'
        }))
    },
    options: {
        responsive: false,
        animation: false,
        events: [],
        devicePixelRatio: 1,
        layout: { padding: { left: 9, right: 83.3, top: 90.7, bottom: 15.5 } },
        plugins: {
            legend: { display: false },
            tooltip: { enabled: false },
            title: { display: false }
        },
        scales: {
            x: {
                type: 'linear', axis: 'x', position: 'bottom', weight: 0,
                min: X_MIN, max: X_MAX, bounds: 'data',
                afterBuildTicks: setTicks(gridDays),
                afterFit: (scale) => { scale.height = 0; },
                ticks: { display: false },
                grid: { color: '#cfcfcf', lineWidth: 1.5, drawTicks: false },
                border: { color: '#6a6a6a', width: 2 }
            },
            xDates: {
                type: 'linear', axis: 'x', position: 'bottom', weight: 1,
                min: X_MIN, max: X_MAX, bounds: 'data',
                afterBuildTicks: setTicks(dateTickDays),
                afterFit: (scale) => { scale.height = 29; },
                ticks: {
                    autoSkip: false, maxRotation: 0, minRotation: 0, padding: 2,
                    font: { size: 22 }, color: '#000',
                    callback: (v, i) => dateLabels[i]
                },
                grid: { display: false },
                border: { display: false }
            },
            xWeeks: {
                type: 'linear', axis: 'x', position: 'bottom', weight: 2,
                min: X_MIN, max: X_MAX, bounds: 'data',
                afterBuildTicks: setTicks(weekTickDays),
                afterFit: (scale) => { scale.height = 60; },
                ticks: {
                    autoSkip: false, maxRotation: 0, minRotation: 0, padding: 1.5,
                    font: { size: 22, lineHeight: 1.28 }, color: '#000',
                    callback: (v, i) => weekLabels[i]
                },
                grid: { display: false },
                border: { display: false }
            },
            y: {
                type: 'logarithmic', position: 'left',
                min: 94, max: 110, bounds: 'data',
                afterBuildTicks: setTicks(yTicks),
                afterFit: (scale) => { scale.width = 50; },
                ticks: { padding: 4, font: { size: 22 }, color: '#000', callback: v => String(v) },
                grid: {
                    drawTicks: false, lineWidth: 1.5,
                    color: (c) => (c.tick && c.tick.value === 110 ? '#e4e4e4' : '#a0a0a0')
                },
                border: { color: '#000', width: 1.5 }
            },
            y2: {
                type: 'logarithmic', position: 'right',
                min: 94, max: 110, bounds: 'data',
                afterBuildTicks: setTicks(yTicks),
                afterFit: (scale) => { scale.width = 60; },
                ticks: { padding: 5, font: { size: 22 }, color: '#000', callback: v => String(v) },
                grid: { display: false },
                border: { color: '#000', width: 1 }
            }
        }
    },
    plugins: [backdropPlugin, textPlugin, tagPlugin]
});
</script>
</body>
</html>
